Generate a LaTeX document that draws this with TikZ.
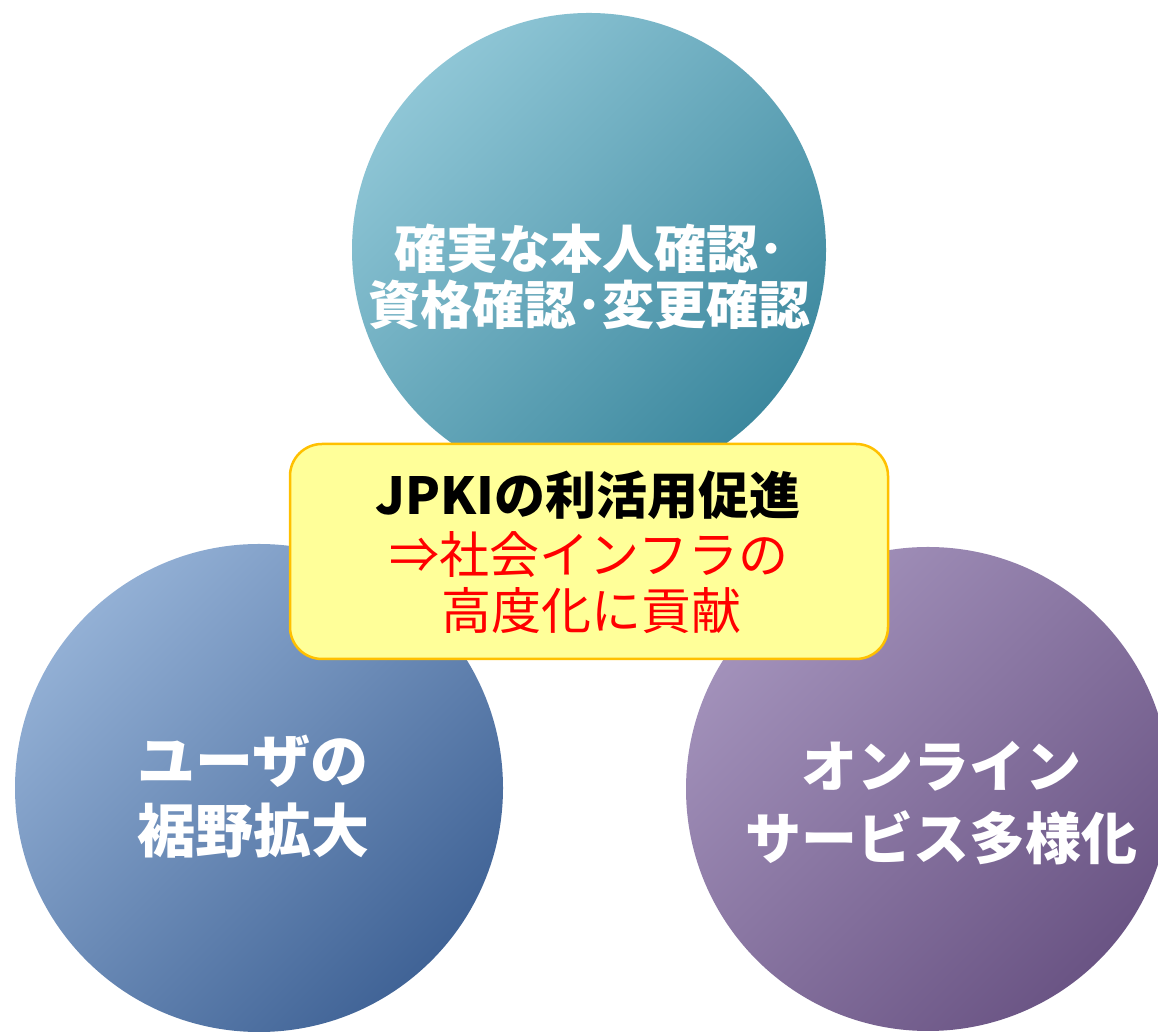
\documentclass[tikz,border=0pt]{standalone}
\usepackage{fontspec}
\newfontfamily\jp{Noto Sans CJK JP}
\definecolor{topL}{RGB}{143,198,214}
\definecolor{topD}{RGB}{60,136,158}
\definecolor{leftL}{RGB}{147,176,213}
\definecolor{leftD}{RGB}{64,99,150}
\definecolor{rightL}{RGB}{163,146,187}
\definecolor{rightD}{RGB}{106,84,132}
\definecolor{boxfill}{RGB}{255,255,153}
\definecolor{boxline}{RGB}{255,192,0}
\newcommand\gradcirc[5]{%
  \begin{scope}
    \clip (#1,#2) circle (#3);
    \shade[transform canvas={rotate around={45:(#1,#2)}},top color=#4,bottom color=#5]
      (#1-#3,#2-#3) rectangle (#1+#3,#2+#3);
  \end{scope}}
\tikzset{
  circtext/.style={text=white,inner sep=0pt,anchor=base,font=\jp\bfseries\fontsize{#1}{#1}\selectfont},
  boxbold/.style={text=black,inner sep=0pt,anchor=base,font=\jp\bfseries\fontsize{51}{51}\selectfont},
  boxred/.style={text=red,inner sep=0pt,anchor=base,font=\jp\fontsize{50}{50}\selectfont},
  centrebox/.style={draw=boxline,fill=boxfill,line width=2.5pt,rounded corners=32pt,
    minimum width=598pt,minimum height=215pt,inner sep=0pt}
}
\begin{document}
\begin{tikzpicture}[x=1pt,y=1pt]
\useasboundingbox (0,0) rectangle (1158,1032);
\fill[white] (0,0) rectangle (1158,1032);
% circles
\gradcirc{589}{782}{237}{topL}{topD}
\gradcirc{259}{244}{244}{leftL}{leftD}
\gradcirc{928}{243}{242}{rightL}{rightD}
% circle texts
\node[circtext=52] (top1) at (589,763) {確実な本人確認･};
\node[circtext=52] (top2) at (589,707) {資格確認･変更確認};
\node[circtext=58] (left1) at (253,249) {ユーザの};
\node[circtext=58] (left2) at (253,179) {裾野拡大};
\node[circtext=56] (right1) at (941,244) {オンライン};
\node[circtext=56] (right2) at (941,172) {サービス多様化};
% centre box
\node[centrebox] (box) at (589,480.5) {};
\node[boxbold] (b1) at (588,517) {JPKIの利活用促進};
\node[boxred] (b2) at (589,458) {⇒社会インフラの};
\node[boxred] (b3) at (591,402) {高度化に貢献};
\end{tikzpicture}
\end{document}
